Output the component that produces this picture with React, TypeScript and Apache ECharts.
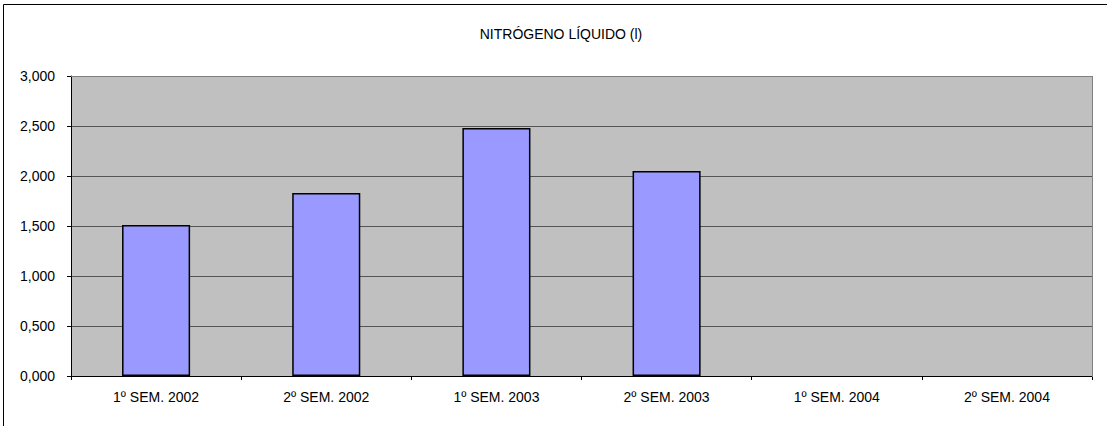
import React, { useEffect, useRef } from "react";
import * as echarts from "echarts";

const categories = ["1º SEM. 2002", "2º SEM. 2002", "1º SEM. 2003", "2º SEM. 2003", "1º SEM. 2004", "2º SEM. 2004"];
const values = [1.51, 1.83, 2.48, 2.05, null, null];
const title = "NITRÓGENO LÍQUIDO (l)";

export default function App() {
  const ref = useRef<HTMLDivElement>(null);
  useEffect(() => {
    const chart = echarts.init(ref.current!, null, { renderer: "svg" });
    const font = "Arial, 'Liberation Sans', sans-serif";
    chart.setOption({
      animation: false,
      backgroundColor: "#ffffff",
      title: {
        text: title,
        left: 556,
        textAlign: "center",
        top: 22,
        textStyle: { fontFamily: font, fontSize: 14, fontWeight: "normal", color: "#000" },
      },
      graphic: [
        {
          type: "rect",
          shape: { x: 3.5, y: 4.5, width: 1120, height: 440 },
          style: { fill: "none", stroke: "#000", lineWidth: 1 },
          silent: true,
        },
        {
          type: "line",
          shape: { x1: 71, y1: 76.5, x2: 1092, y2: 76.5 },
          style: { stroke: "#808080", lineWidth: 1 },
          z: 10,
        },
        {
          type: "line",
          shape: { x1: 1092.5, y1: 76, x2: 1092.5, y2: 377 },
          style: { stroke: "#808080", lineWidth: 1 },
          z: 10,
        },
      ],
      grid: {
        left: 71,
        right: 15,
        top: 76,
        bottom: 50,
        show: true,
        backgroundColor: "#c0c0c0",
        borderWidth: 0,
      },
      xAxis: {
        type: "category",
        data: categories,
        axisLine: { lineStyle: { color: "#000", width: 1 } },
        axisTick: { show: true, alignWithLabel: false, length: 4, lineStyle: { color: "#000" } },
        axisLabel: { fontFamily: font, fontSize: 14, color: "#000", margin: 14 },
      },
      yAxis: {
        type: "value",
        min: 0,
        max: 3,
        interval: 0.5,
        axisLine: { show: true, lineStyle: { color: "#000", width: 1 } },
        axisTick: { show: true, length: 4, lineStyle: { color: "#000" } },
        axisLabel: {
          fontFamily: font,
          fontSize: 14,
          color: "#000",
          margin: 16,
          formatter: (v: number) => v.toFixed(3).replace(".", ","),
        },
        splitLine: { show: true, lineStyle: { color: "#555", width: 1 } },
      },
      series: [
        {
          type: "bar",
          data: values,
          barWidth: "40%",
          itemStyle: { color: "#9999ff", borderColor: "#000", borderWidth: 1.5 },
        },
      ],
    });
    return () => chart.dispose();
  }, []);
  return <div ref={ref} style={{ width: 1107, height: 426, position: "absolute", left: 0, top: 0 }} />;
}
